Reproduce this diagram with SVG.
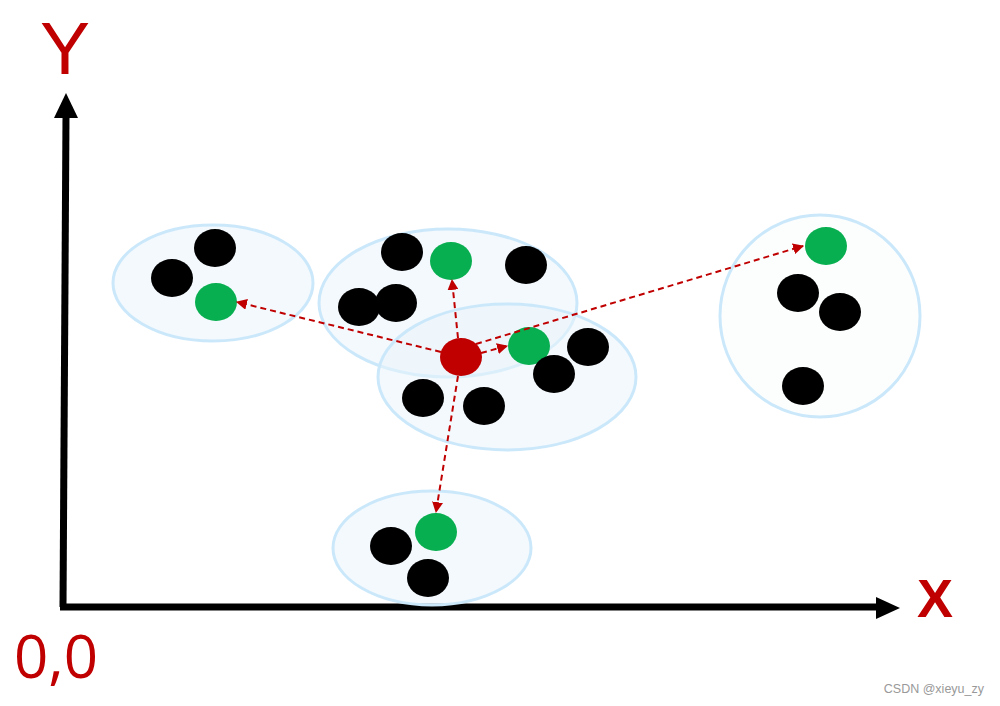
<svg xmlns="http://www.w3.org/2000/svg" width="1000" height="706" viewBox="0 0 1000 706">
<style>
.cl{fill:#EAF4FC;fill-opacity:0.55;stroke:#CBE8FB;stroke-width:3}
.bk{fill:#000}
.gn{fill:#08AF50}
.rd{fill:#C00000}
.ar{stroke:#C00000;stroke-width:2;stroke-dasharray:6 4;fill:none;marker-end:url(#ah)}
.lbl{font-family:"Liberation Sans","Open Sans",sans-serif;fill:#C00000}
</style>
<defs>
<marker id="ah" viewBox="0 0 10 10" refX="9" refY="5" markerWidth="5.5" markerHeight="5.5" orient="auto" markerUnits="strokeWidth">
<path d="M0,0 L10,5 L0,10 z" fill="#C00000"/>
</marker>
</defs>
<rect width="1000" height="706" fill="#fff"/>
<g id="axes">
<line x1="63" y1="607" x2="66" y2="115" stroke="#000" stroke-width="7"/>
<polygon points="66,93 54,118 78,118" fill="#000"/>
<line x1="60" y1="607" x2="878" y2="607" stroke="#000" stroke-width="7"/>
<polygon points="900,608 876,597 876,619" fill="#000"/>
</g>
<g id="labels">
<text class="lbl" x="65" y="74" font-size="75" text-anchor="middle">Y</text>
<text class="lbl" x="935" y="617" font-size="54" font-weight="bold" text-anchor="middle">X</text>
<text x="14" y="678" font-family="'Open Sans','Liberation Sans',sans-serif" font-size="60" fill="#C00000">0,0</text>
<text x="984" y="693" font-family="Liberation Sans,Arial,sans-serif" font-size="12.5" fill="#999" text-anchor="end">CSDN @xieyu_zy</text>
</g>
<g id="cluster-left">
<ellipse class="cl" cx="213" cy="283" rx="100" ry="58"/>
<ellipse class="bk" cx="215" cy="248" rx="21" ry="19"/>
<ellipse class="bk" cx="172" cy="278" rx="21" ry="19"/>
<ellipse class="gn" cx="216" cy="302" rx="21" ry="19"/>
</g>
<g id="cluster-top">
<ellipse class="cl" cx="448" cy="303" rx="129" ry="74"/>
<ellipse class="bk" cx="402" cy="252" rx="21" ry="19"/>
<ellipse class="gn" cx="451" cy="261" rx="21" ry="19"/>
<ellipse class="bk" cx="526" cy="265" rx="21" ry="19"/>
<ellipse class="bk" cx="359" cy="307" rx="21" ry="19"/>
<ellipse class="bk" cx="396" cy="303" rx="21" ry="19"/>
</g>
<g id="cluster-center">
<ellipse class="cl" cx="507" cy="377" rx="129" ry="73"/>
<ellipse class="gn" cx="529" cy="346" rx="21" ry="19"/>
<ellipse class="bk" cx="588" cy="347" rx="21" ry="19"/>
<ellipse class="bk" cx="554" cy="374" rx="21" ry="19"/>
<ellipse class="bk" cx="423" cy="398" rx="21" ry="19"/>
<ellipse class="bk" cx="484" cy="406" rx="21" ry="19"/>
</g>
<g id="cluster-right">
<ellipse cx="820" cy="316" rx="100" ry="101" fill="#FCFEFE" stroke="#CBE8FB" stroke-width="3"/>
<ellipse class="gn" cx="826" cy="246" rx="21" ry="19"/>
<ellipse class="bk" cx="798" cy="293" rx="21" ry="19"/>
<ellipse class="bk" cx="840" cy="312" rx="21" ry="19"/>
<ellipse class="bk" cx="803" cy="386" rx="21" ry="19"/>
</g>
<g id="cluster-bottom">
<ellipse class="cl" cx="432" cy="548" rx="99" ry="57"/>
<ellipse class="bk" cx="391" cy="546" rx="21" ry="19"/>
<ellipse class="bk" cx="428" cy="578" rx="21" ry="19"/>
<ellipse class="gn" cx="436" cy="532" rx="21" ry="19"/>
</g>
<g id="connectors">
<line class="ar" x1="441" y1="352" x2="237" y2="302"/>
<line class="ar" x1="458" y1="338" x2="452" y2="280"/>
<line class="ar" x1="481" y1="353" x2="507" y2="346"/>
<line class="ar" x1="476" y1="344" x2="803" y2="246"/>
<line class="ar" x1="458" y1="376" x2="436" y2="512"/>
</g>
<g id="query">
<ellipse class="rd" cx="461" cy="357" rx="21" ry="19"/>
</g>
</svg>
